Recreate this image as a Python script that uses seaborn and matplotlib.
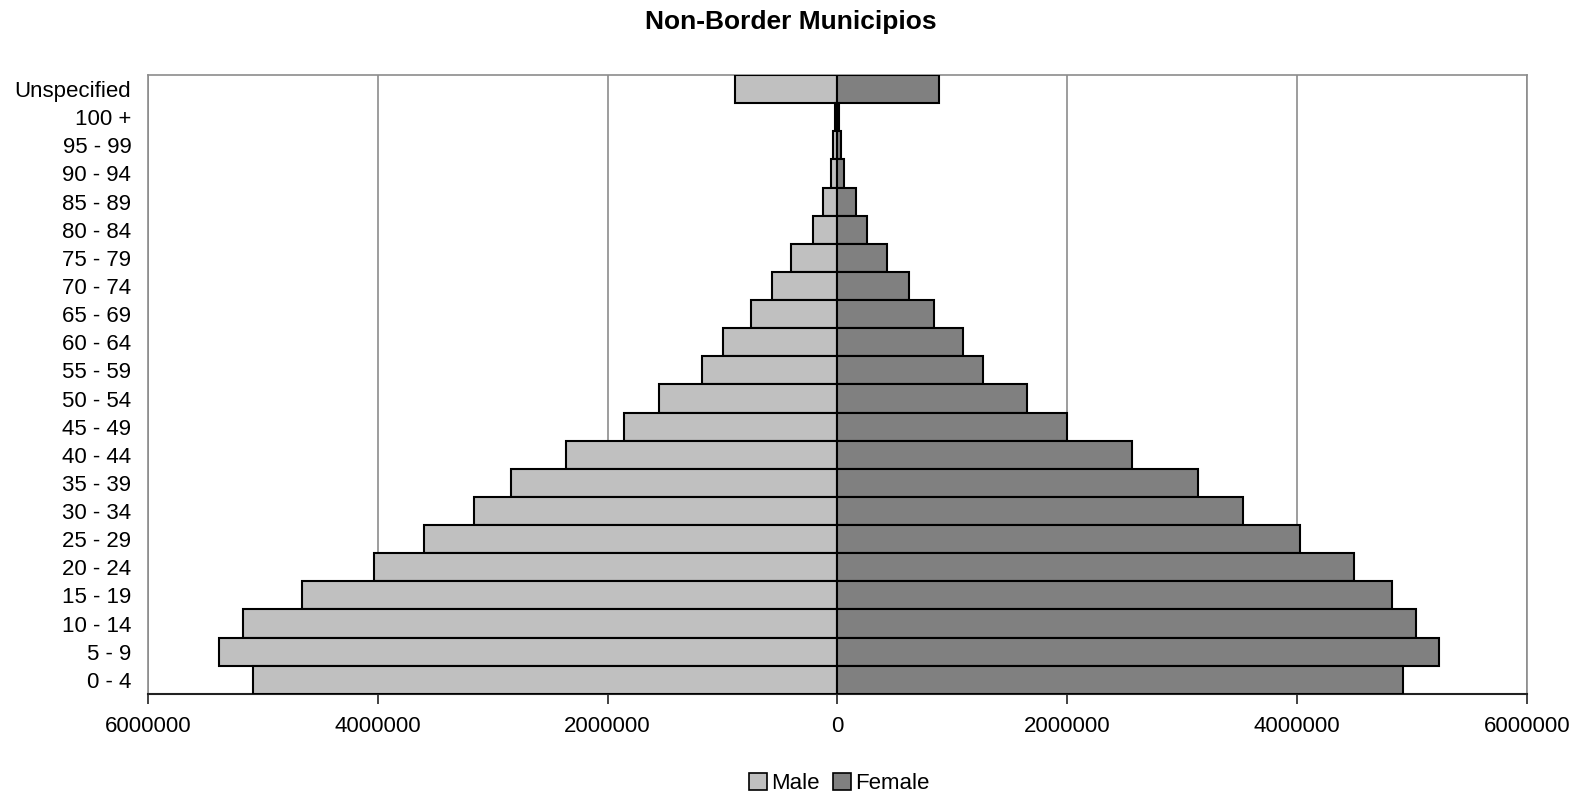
import matplotlib
matplotlib.use("Agg")
import matplotlib.pyplot as plt
import seaborn as sns
import pandas as pd
from matplotlib.patches import Patch
from matplotlib.ticker import FuncFormatter

age_groups = ["Unspecified", "100 +", "95 - 99", "90 - 94", "85 - 89", "80 - 84",
              "75 - 79", "70 - 74", "65 - 69", "60 - 64", "55 - 59", "50 - 54",
              "45 - 49", "40 - 44", "35 - 39", "30 - 34", "25 - 29", "20 - 24",
              "15 - 19", "10 - 14", "5 - 9", "0 - 4"]
male = [895000, 18000, 35000, 60000, 130000, 210000, 400000, 570000, 750000,
        1000000, 1175000, 1550000, 1860000, 2360000, 2840000, 3160000, 3600000,
        4035000, 4660000, 5175000, 5380000, 5090000]
female = [886000, 10000, 35000, 60000, 158000, 255000, 430000, 623000, 842000,
          1096000, 1263000, 1650000, 2000000, 2561000, 3140000, 3526000, 4026000,
          4491000, 4825000, 5035000, 5237000, 4921000]

male_color = "#C0C0C0"
female_color = "#808080"

sns.set_theme(style="white")
plt.rcParams["font.family"] = ["Liberation Sans", "DejaVu Sans"]
plt.rcParams["text.color"] = "black"
plt.rcParams["xtick.color"] = "black"
plt.rcParams["ytick.color"] = "black"
plt.rcParams["axes.labelcolor"] = "black"

df_m = pd.DataFrame({"age": age_groups, "value": [-v for v in male]})
df_f = pd.DataFrame({"age": age_groups, "value": female})

fig = plt.figure(figsize=(15.81, 7.93), dpi=100)
ax = fig.add_axes([0.0936, 0.125, 0.8722, 0.7804])

sns.barplot(data=df_m, x="value", y="age", order=age_groups, orient="h",
            color=male_color, width=1.0, edgecolor="black", linewidth=1.5,
            saturation=1, ax=ax, zorder=3)
sns.barplot(data=df_f, x="value", y="age", order=age_groups, orient="h",
            color=female_color, width=1.0, edgecolor="black", linewidth=1.5,
            saturation=1, ax=ax, zorder=3)

ax.set_xlim(-6000000, 6000000)
ax.set_ylim(len(age_groups) - 0.5, -0.5)
ax.set_xticks([-6000000, -4000000, -2000000, 0, 2000000, 4000000, 6000000])
ax.xaxis.set_major_formatter(FuncFormatter(lambda v, p: f"{abs(int(round(v)))}"))
ax.grid(axis="x", color="#8c8c8c", linewidth=1.2, zorder=0)
ax.grid(axis="y", visible=False)
ax.set_axisbelow(True)
ax.set_xlabel("")
ax.set_ylabel("")

for s in ["top", "left", "right"]:
    ax.spines[s].set_color("#8c8c8c")
    ax.spines[s].set_linewidth(1.2)
ax.spines["bottom"].set_color("#222222")
ax.spines["bottom"].set_linewidth(1.5)

ax.tick_params(axis="x", which="major", bottom=True, length=7, width=1.2,
               color="#222222", labelcolor="black", labelsize=16, pad=9)
ax.tick_params(axis="y", left=False, labelcolor="black", labelsize=16, pad=6)

fig.suptitle("Non-Border Municipios", fontsize=19, fontweight="bold", y=0.988,
             color="black")

handles = [Patch(facecolor=male_color, edgecolor="black", linewidth=1.2, label="Male"),
           Patch(facecolor=female_color, edgecolor="black", linewidth=1.2, label="Female")]
fig.legend(handles=handles, loc="center", bbox_to_anchor=(0.531, 0.012), ncol=2,
           frameon=False, fontsize=16, handlelength=0.8, handleheight=0.8,
           handletextpad=0.2, columnspacing=0.6, labelcolor="black")

fig.savefig("out.png", dpi=100)
